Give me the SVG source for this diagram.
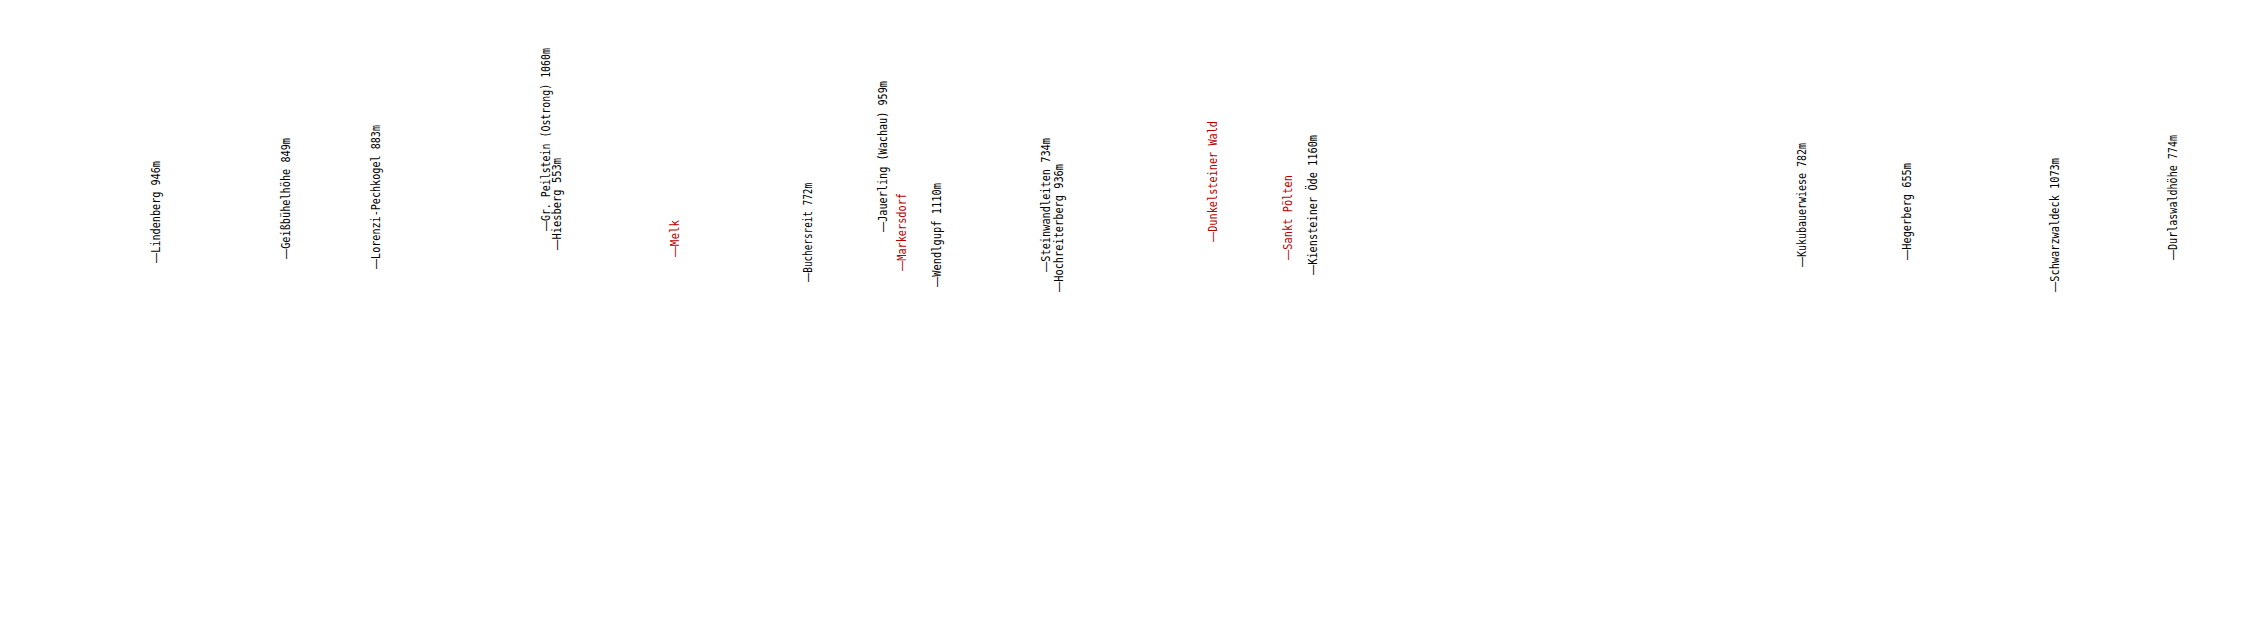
<svg xmlns="http://www.w3.org/2000/svg" width="2262" height="620" viewBox="0 0 2262 620">
<style>
text{font-family:"DejaVu Sans Mono","Liberation Mono",monospace;font-size:12px;fill:#000}
.d{font-family:"Liberation Sans","DejaVu Sans",sans-serif}
.town{fill:#b80000}
</style>
<rect width="2262" height="620" fill="#fff"/>
<g id="nodes">
<g id="lindenberg"><text transform="translate(160,263) rotate(-90)" textLength="102" lengthAdjust="spacingAndGlyphs"><tspan class="d">—</tspan>Lindenberg 946m</text></g>
<g id="geissbuehelhoehe"><text transform="translate(290.2,259) rotate(-90)" textLength="121" lengthAdjust="spacingAndGlyphs"><tspan class="d">—</tspan>Geißbühelhöhe 849m</text></g>
<g id="lorenzi-pechkogel"><text transform="translate(380,269) rotate(-90)" textLength="144" lengthAdjust="spacingAndGlyphs"><tspan class="d">—</tspan>Lorenzi-Pechkogel 883m</text></g>
<g id="gr-peilstein"><text transform="translate(549.5,231) rotate(-90)" textLength="183" lengthAdjust="spacingAndGlyphs"><tspan class="d">—</tspan>Gr. Peilstein (Ostrong) 1060m</text></g>
<g id="hiesberg"><text transform="translate(560.5,250) rotate(-90)" textLength="92" lengthAdjust="spacingAndGlyphs"><tspan class="d">—</tspan>Hiesberg 553m</text></g>
<g id="melk"><text class="town" transform="translate(678.5,257) rotate(-90)" textLength="37" lengthAdjust="spacingAndGlyphs"><tspan class="d">—</tspan>Melk</text></g>
<g id="buchersreit"><text transform="translate(812,282) rotate(-90)" textLength="99" lengthAdjust="spacingAndGlyphs"><tspan class="d">—</tspan>Buchersreit 772m</text></g>
<g id="jauerling"><text transform="translate(887.2,232) rotate(-90)" textLength="151" lengthAdjust="spacingAndGlyphs"><tspan class="d">—</tspan>Jauerling (Wachau) 959m</text></g>
<g id="markersdorf"><text class="town" transform="translate(905.5,271) rotate(-90)" textLength="78" lengthAdjust="spacingAndGlyphs"><tspan class="d">—</tspan>Markersdorf</text></g>
<g id="wendlgupf"><text transform="translate(940.5,287) rotate(-90)" textLength="104" lengthAdjust="spacingAndGlyphs"><tspan class="d">—</tspan>Wendlgupf 1110m</text></g>
<g id="steinwandleiten"><text transform="translate(1050,272) rotate(-90)" textLength="134" lengthAdjust="spacingAndGlyphs"><tspan class="d">—</tspan>Steinwandleiten 734m</text></g>
<g id="hochreiterberg"><text transform="translate(1063,292) rotate(-90)" textLength="128" lengthAdjust="spacingAndGlyphs"><tspan class="d">—</tspan>Hochreiterberg 936m</text></g>
<g id="dunkelsteiner-wald"><text class="town" transform="translate(1216.8,242) rotate(-90)" textLength="121" lengthAdjust="spacingAndGlyphs"><tspan class="d">—</tspan>Dunkelsteiner Wald</text></g>
<g id="sankt-poelten"><text class="town" transform="translate(1292,260) rotate(-90)" textLength="85" lengthAdjust="spacingAndGlyphs"><tspan class="d">—</tspan>Sankt Pölten</text></g>
<g id="kiensteiner-oede"><text transform="translate(1317.2,275) rotate(-90)" textLength="140" lengthAdjust="spacingAndGlyphs"><tspan class="d">—</tspan>Kiensteiner Öde 1160m</text></g>
<g id="kukubauerwiese"><text transform="translate(1805.5,267) rotate(-90)" textLength="124" lengthAdjust="spacingAndGlyphs"><tspan class="d">—</tspan>Kukubauerwiese 782m</text></g>
<g id="hegerberg"><text transform="translate(1911.2,260) rotate(-90)" textLength="97" lengthAdjust="spacingAndGlyphs"><tspan class="d">—</tspan>Hegerberg 655m</text></g>
<g id="schwarzwaldeck"><text transform="translate(2058.5,292) rotate(-90)" textLength="134" lengthAdjust="spacingAndGlyphs"><tspan class="d">—</tspan>Schwarzwaldeck 1073m</text></g>
<g id="durlaswaldhoehe"><text transform="translate(2177.2,260) rotate(-90)" textLength="125" lengthAdjust="spacingAndGlyphs"><tspan class="d">—</tspan>Durlaswaldhöhe 774m</text></g>
</g>
<g id="connectors"></g>
</svg>
